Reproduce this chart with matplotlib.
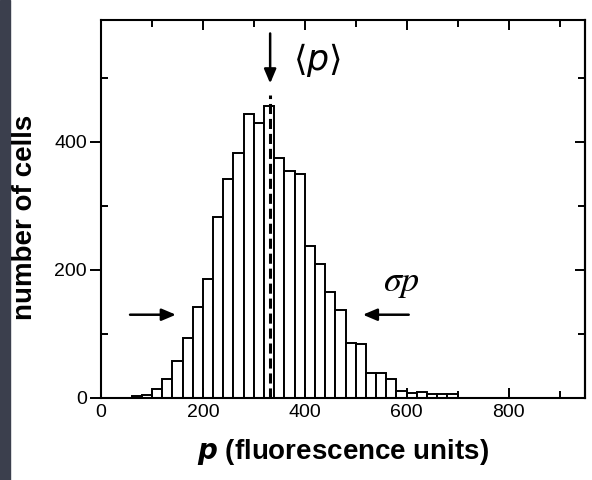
import numpy as np
import matplotlib.pyplot as plt
from matplotlib.ticker import MultipleLocator
from matplotlib.patches import Rectangle

plt.rcParams['font.family'] = ['Liberation Sans', 'DejaVu Sans']

# cell counts per fluorescence bin (20 units wide, first bin starts at 60)
bin_width = 20
bin_left = np.arange(60, 700, bin_width)
counts = [3, 5, 14, 30, 58, 94, 142, 186, 282, 342, 382, 443, 430, 455, 375, 355,
          350, 238, 209, 165, 137, 86, 84, 39, 39, 29, 11, 8, 10, 6, 6, 6]
mean_p = 332
sigma_y = 130          # height where the width arrows sit
sigma_left = (57, 147)
sigma_right = (604, 514)

fig = plt.figure(figsize=(5.92, 4.8), dpi=100)
ax = fig.add_axes([101 / 592, 82 / 480, 484 / 592, 378 / 480])

# thin dark strip on the left edge of the panel
fig.add_artist(Rectangle((0, 0), 10 / 592, 1, transform=fig.transFigure,
                         color='#3b3f4d', zorder=-1))

ax.bar(bin_left, counts, width=bin_width, align='edge', color='white',
       edgecolor='black', linewidth=1.4)
ax.plot([mean_p, mean_p], [0, 473], color='black', lw=2.2,
        ls=(0, (3.3, 1.6)), zorder=3)

arrow = dict(arrowstyle='-|>,head_length=0.85,head_width=0.36', color='black',
             lw=1.8, shrinkA=0, shrinkB=0)
ax.annotate('', xy=(mean_p, 491), xytext=(mean_p, 569), arrowprops=arrow)
ax.annotate('', xy=(sigma_left[1], sigma_y), xytext=(sigma_left[0], sigma_y),
            arrowprops=arrow)
ax.annotate('', xy=(sigma_right[1], sigma_y), xytext=(sigma_right[0], sigma_y),
            arrowprops=arrow)

ax.text(425, 528, r'$\langle p\rangle$', fontsize=25, ha='center', va='center',
        math_fontfamily='dejavusans')
ax.text(590, 181, r'$\sigma p$', fontsize=26, ha='center', va='center',
        math_fontfamily='stix')

ax.set_xlim(0, 950)
ax.set_ylim(0, 590)
ax.xaxis.set_major_locator(MultipleLocator(200))
ax.xaxis.set_minor_locator(MultipleLocator(100))
ax.yaxis.set_major_locator(MultipleLocator(200))
ax.yaxis.set_minor_locator(MultipleLocator(100))

ax.tick_params(axis='x', which='both', direction='in', top=True, labelsize=14,
               width=1.4, pad=4)
ax.tick_params(axis='x', which='major', length=7)
ax.tick_params(axis='x', which='minor', length=5)
ax.tick_params(axis='y', which='major', direction='out', length=8, width=1.4,
               labelsize=14, pad=2)
ax.tick_params(axis='y', which='minor', direction='in', length=5, width=1.4)

right = ax.secondary_yaxis('right')
right.yaxis.set_major_locator(MultipleLocator(200))
right.yaxis.set_minor_locator(MultipleLocator(100))
right.tick_params(which='both', direction='in', width=1.4, labelright=False)
right.tick_params(which='major', length=7)
right.tick_params(which='minor', length=5)
right.spines['right'].set_linewidth(1.5)

for s in ax.spines.values():
    s.set_linewidth(1.5)

fig.text(343 / 592, 1 - 452 / 480, r'$\mathbfit{p}$ (fluorescence units)',
         fontsize=20, fontweight='bold', ha='center', va='center',
         math_fontfamily='dejavusans')
fig.text(25 / 592, 1 - 217 / 480, 'number of cells', fontsize=20,
         fontweight='bold', rotation=90, ha='center', va='center')

fig.savefig('out.png', dpi=100)
